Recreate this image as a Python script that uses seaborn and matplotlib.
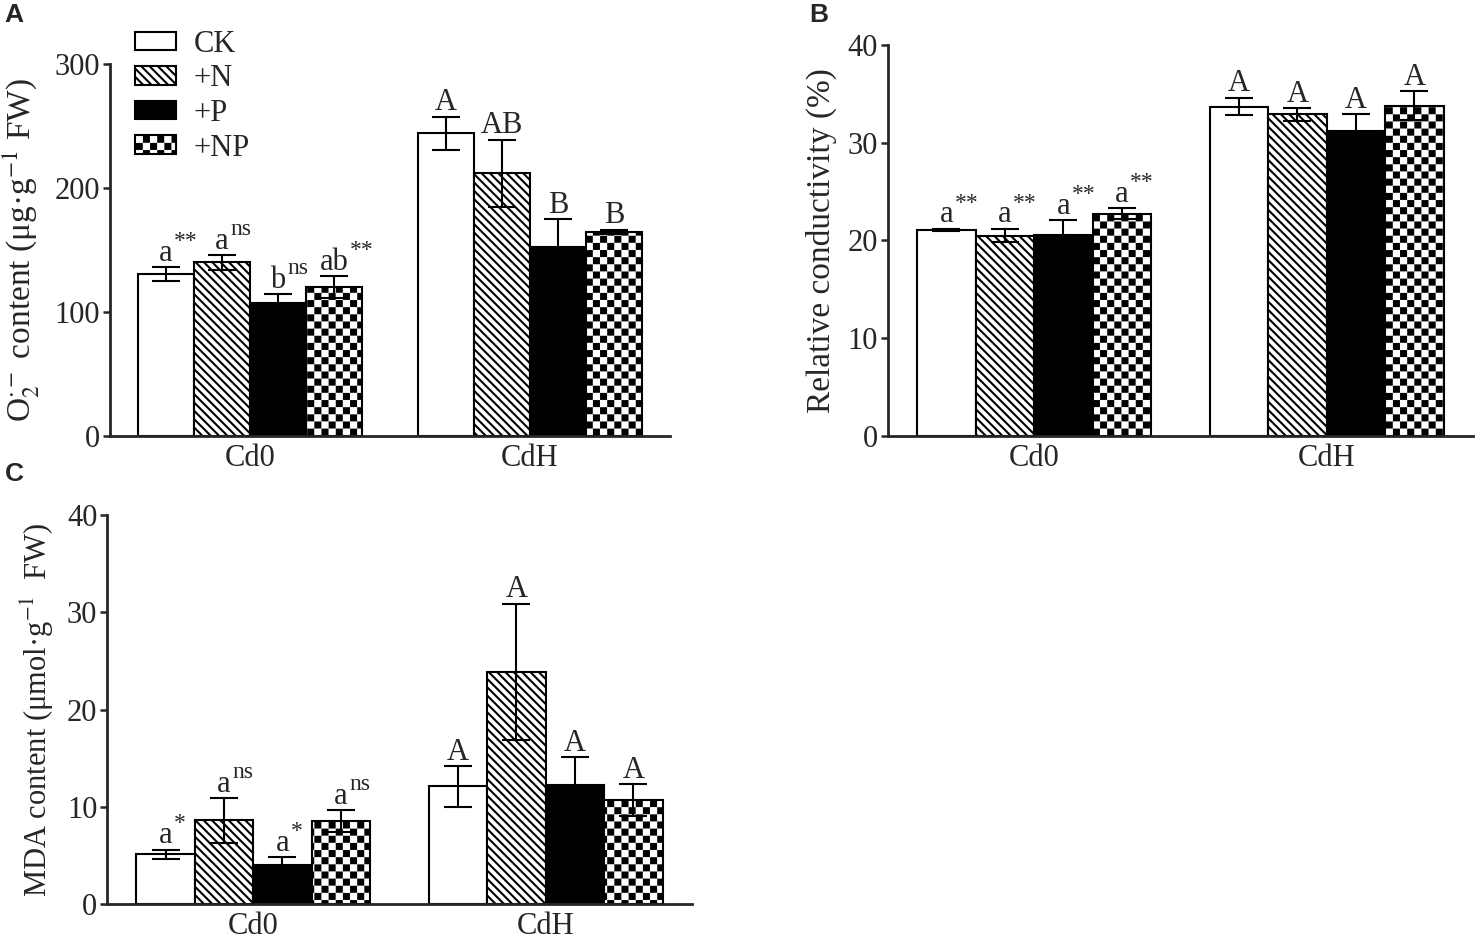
import numpy as np
import pandas as pd
import matplotlib
matplotlib.use("Agg")
import matplotlib.pyplot as plt
from matplotlib import hatch as mhatch
from matplotlib.path import Path
from matplotlib.container import BarContainer
import seaborn as sns

# data
groups = ["Cd0", "CdH"]
treatments = ["CK", "+N", "+P", "+NP"]

# A: superoxide content
o2_cd0 = [130.6, 140.0, 107.0, 120.0]
o2_cdh = [244.0, 212.0, 152.5, 164.5]
o2_err_cd0 = [5.6, 5.8, 7.3, 9.0]
o2_err_cdh = [13.5, 27.0, 22.5, 2.0]
o2_let_cd0 = ["a", "a", "b", "ab"]
o2_sig_cd0 = ["**", "ns", "ns", "**"]
o2_let_cdh = ["A", "AB", "B", "B"]

# B: relative conductivity
rc_cd0 = [21.1, 20.5, 20.6, 22.75]
rc_cdh = [33.7, 32.9, 31.2, 33.8]
rc_err_cd0 = [0.1, 0.7, 1.5, 0.55]
rc_err_cdh = [0.9, 0.65, 1.75, 1.5]
rc_let_cd0 = ["a", "a", "a", "a"]
rc_sig_cd0 = ["**", "**", "**", "**"]
rc_let_cdh = ["A", "A", "A", "A"]

# C: MDA content
mda_cd0 = [5.1, 8.6, 4.0, 8.55]
mda_cdh = [12.1, 23.9, 12.2, 10.7]
mda_err_cd0 = [0.5, 2.3, 0.85, 1.1]
mda_err_cdh = [2.1, 7.0, 2.9, 1.6]
mda_let_cd0 = ["a", "a", "a", "a"]
mda_sig_cd0 = ["*", "ns", "*", "ns"]
mda_let_cdh = ["A", "A", "A", "A"]


# checkerboard fill: take over the 'O' hatch letter
class CheckerHatch(mhatch.HatchPatternBase):
    def __init__(self, hatch, density):
        self.n = 14 if "O" in hatch else 0
        self.num_vertices = (self.n * self.n // 2) * 5

    def set_vertices_and_codes(self, vertices, codes):
        step = 1.0 / self.n
        inset = 0.011
        k = 0
        for i in range(self.n):
            for j in range(self.n):
                if (i + j) % 2:
                    continue
                x0, y0 = i * step + inset, j * step + inset
                x1, y1 = (i + 1) * step - inset, (j + 1) * step - inset
                vertices[k:k + 5] = [(x0, y0), (x1, y0), (x1, y1), (x0, y1), (x0, y0)]
                codes[k:k + 5] = [Path.MOVETO, Path.LINETO, Path.LINETO,
                                  Path.LINETO, Path.CLOSEPOLY]
                k += 5


mhatch._hatch_types[mhatch._hatch_types.index(mhatch.LargeCircles)] = CheckerHatch

sns.set_style("ticks")
plt.rcParams["font.family"] = ["Liberation Serif", "DejaVu Serif"]
plt.rcParams["mathtext.fontset"] = "stix"
plt.rcParams["hatch.linewidth"] = 1.5

faces = ["white", "white", "black", "white"]
hatches = ["", "\\\\\\\\", "", "O"]

fig = plt.figure(figsize=(14.76, 9.4), dpi=100)
ax_a = fig.add_axes([0.0745, 0.5362, 0.3794, 0.3957])
ax_b = fig.add_axes([0.6016, 0.5362, 0.3963, 0.4160])
ax_c = fig.add_axes([0.0725, 0.0383, 0.3963, 0.4138])


def panel(ax, cd0, cdh, err_cd0, err_cdh, let_cd0, sig_cd0, let_cdh, ymax, ystep,
          ylabel, lsize, pad):
    df = pd.DataFrame({
        "group": np.repeat(groups, len(treatments)),
        "treatment": treatments * 2,
        "value": cd0 + cdh,
    })
    sns.barplot(data=df, x="group", y="value", hue="treatment", order=groups,
                hue_order=treatments, palette=["white"] * 4, edgecolor="black",
                linewidth=1.5, errorbar=None, width=0.8, legend=False, ax=ax)
    vals = [cd0, cdh]
    errs = [err_cd0, err_cdh]
    labs = [let_cd0, let_cdh]
    sigs = [sig_cd0, [""] * 4]
    bars = [c for c in ax.containers if isinstance(c, BarContainer)]
    for i, cont in enumerate(bars):
        for j, p in enumerate(cont.patches):
            p.set_facecolor(faces[i])
            p.set_edgecolor("black")
            p.set_hatch(hatches[i])
            xc = p.get_x() + p.get_width() / 2
            y = vals[j][i]
            e = errs[j][i]
            ax.errorbar(xc, y, yerr=e, fmt="none", ecolor="black", elinewidth=1.5,
                        capsize=10, capthick=1.5, zorder=5)
            t = ax.annotate(labs[j][i], xy=(xc, y + e), xytext=(0, 4.5),
                            textcoords="offset points", ha="center", va="baseline",
                            fontsize=22)
            if sigs[j][i]:
                ax.annotate(sigs[j][i], xy=(1, 0), xycoords=t, xytext=(1, 15),
                            textcoords="offset points", ha="left", va="baseline",
                            fontsize=17)
    ax.set_xlim(-0.5, 1.5)
    ax.set_ylim(0, ymax)
    ax.set_yticks(np.arange(0, ymax + 1, ystep))
    ax.set_xlabel("")
    ax.set_ylabel(ylabel, fontsize=lsize, labelpad=pad)
    sns.despine(ax=ax)
    for s in ["left", "bottom"]:
        ax.spines[s].set_linewidth(2.0)
    ax.tick_params(axis="y", labelsize=22, length=5, width=1.8, pad=2)
    ax.tick_params(axis="x", labelsize=22, length=0, pad=6)
    return bars


bars_a = panel(ax_a, o2_cd0, o2_cdh, o2_err_cd0, o2_err_cdh, o2_let_cd0, o2_sig_cd0, o2_let_cdh,
               300, 100, r"O$_2^{\cdot -}$ content (μg·g$^{-1}$ FW)", 24, 9)
panel(ax_b, rc_cd0, rc_cdh, rc_err_cd0, rc_err_cdh, rc_let_cd0, rc_sig_cd0, rc_let_cdh,
      40, 10, "Relative conductivity (%)", 24, 8)
panel(ax_c, mda_cd0, mda_cdh, mda_err_cd0, mda_err_cdh, mda_let_cd0, mda_sig_cd0, mda_let_cdh,
      40, 10, r"MDA content (μmol·g$^{-1}$  FW)", 22, 8)

handles = [c.patches[0] for c in bars_a]
fig.legend(handles, treatments, loc="upper left", bbox_to_anchor=(135 / 1476, 1 - 30 / 940),
           frameon=False, fontsize=22, borderpad=0, borderaxespad=0,
           handlelength=1.33, handleheight=0.55, labelspacing=0.18, handletextpad=0.6)

for lab, x, y in [("A", 0.003, 0.997), ("B", 0.548, 0.997), ("C", 0.003, 0.508)]:
    fig.text(x, y, lab, fontsize=19, fontweight="bold", family="Liberation Sans",
             ha="left", va="top")

fig.savefig("out.png", dpi=100)
